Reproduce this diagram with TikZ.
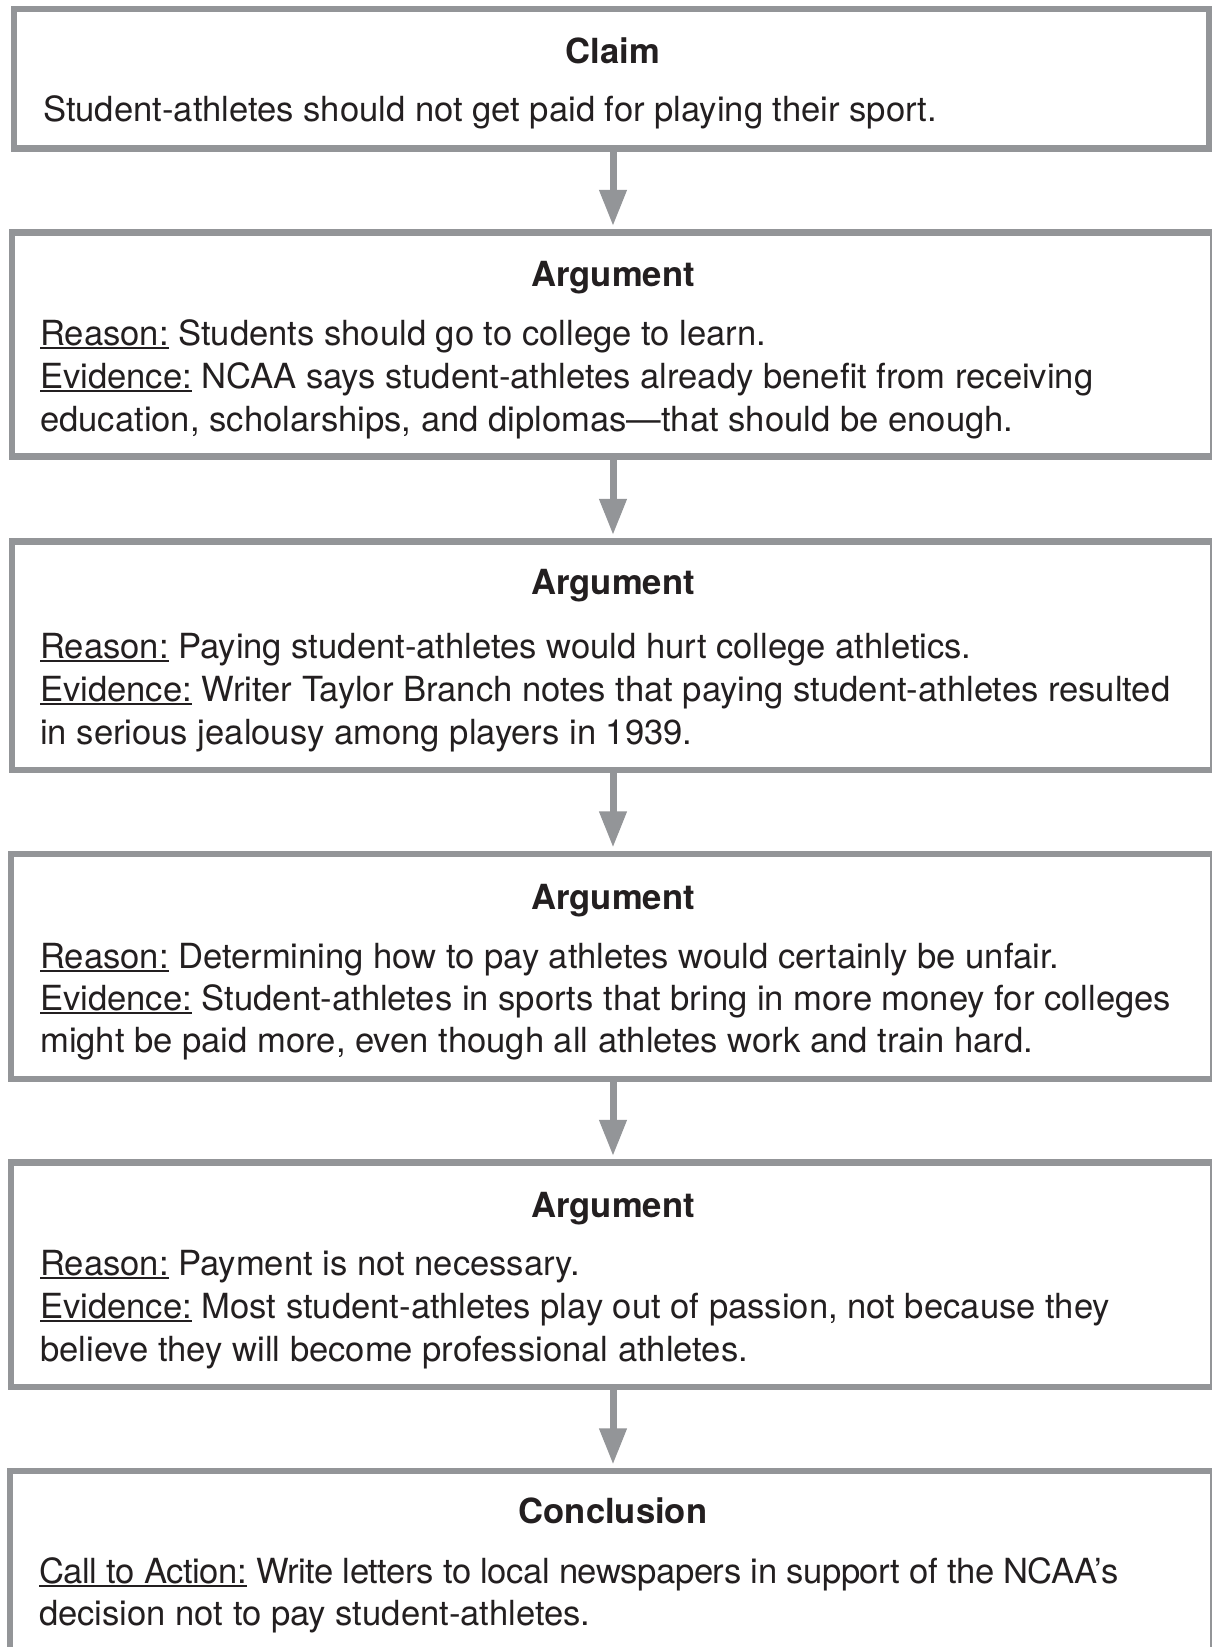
\documentclass[tikz,border=0pt]{standalone}
\usepackage{fontspec}
\setmainfont{TeX Gyre Heros}
\usetikzlibrary{arrows.meta}
\definecolor{bordergray}{RGB}{147,149,152}
\definecolor{inkc}{RGB}{35,31,32}
\newcommand\und[1]{\setbox0\hbox{#1}\rlap{\rule[-4pt]{\wd0}{1.6pt}}\box0\relax}
\tikzset{
  x=1pt, y=-1pt,
  box/.style={draw=bordergray, line width=6.5pt, fill=none},
  head/.style={anchor=base, inner sep=0pt, font=\fontsize{34.6}{43}\selectfont\bfseries, text=inkc},
  line/.style={anchor=base west, inner sep=0pt, font=\fontsize{34.6}{43}\selectfont, text=inkc},
  conn/.style={draw=bordergray, line width=7pt, -{Triangle[width=26pt,length=36pt]}, shorten >=3.3pt, shorten <=3pt}
}
\begin{document}
\begin{tikzpicture}
\clip (0,0) rectangle (1212,1647);
\fill[white] (0,0) rectangle (1212,1647);
% boxes
\node[box, minimum width=1195.5pt, minimum height=139.5pt, inner sep=0pt] (b1) at ({(14+1209.5)/2},{(9+148.5)/2}) {};
\node[box, minimum width=1201.5pt, minimum height=224pt, inner sep=0pt] (b2) at ({(12+1213.5)/2},{(232.5+456.5)/2}) {};
\node[box, minimum width=1201.5pt, minimum height=228.5pt, inner sep=0pt] (b3) at ({(12+1213.5)/2},{(541.5+770)/2}) {};
\node[box, minimum width=1202.5pt, minimum height=225pt, inner sep=0pt] (b4) at ({(11+1213.5)/2},{(854+1079)/2}) {};
\node[box, minimum width=1202.5pt, minimum height=224.5pt, inner sep=0pt] (b5) at ({(11+1213.5)/2},{(1162.5+1387)/2}) {};
\node[box, minimum width=1203.5pt, minimum height=200pt, inner sep=0pt] (b6) at ({(10+1213.5)/2},{(1471+1671)/2}) {};
% connectors
\coordinate (a1s) at (613,148.5);
\coordinate (a2s) at (613,456.5);
\coordinate (a3s) at (613,770);
\coordinate (a4s) at (613,1079);
\coordinate (a5s) at (613,1387);
\draw[conn] (a1s) -- (a1s |- b2.north);
\draw[conn] (a2s) -- (a2s |- b3.north);
\draw[conn] (a3s) -- (a3s |- b4.north);
\draw[conn] (a4s) -- (a4s |- b5.north);
\draw[conn] (a5s) -- (a5s |- b6.north);
% box 1
\node[head] (h1) at (613,63) {Claim};
\node[line] (t11) at (43,121) {Student-athletes should not get paid for playing their sport.};
% box 2
\node[head] (h2) at (613,286) {Argument};
\node[line] (t21) at (40,345) {\und{Reason:} Students should go to college to learn.};
\node[line] (t22) at (40,388) {\und{Evidence:} NCAA says student-athletes already benefit from receiving};
\node[line] (t23) at (40,431) {education, scholarships, and diplomas—that should be enough.};
% box 3
\node[head] (h3) at (613,594) {Argument};
\node[line] (t31) at (40,658) {\und{Reason:} Paying student-athletes would hurt college athletics.};
\node[line] (t32) at (40,701) {\und{Evidence:} Writer Taylor Branch notes that paying student-athletes resulted};
\node[line] (t33) at (40,744) {in serious jealousy among players in 1939.};
% box 4
\node[head] (h4) at (613,909) {Argument};
\node[line] (t41) at (40,968) {\und{Reason:} Determining how to pay athletes would certainly be unfair.};
\node[line] (t42) at (40,1010) {\und{Evidence:} Student-athletes in sports that bring in more money for colleges};
\node[line] (t43) at (40,1052) {might be paid more, even though all athletes work and train hard.};
% box 5
\node[head] (h5) at (613,1217) {Argument};
\node[line] (t51) at (40,1275) {\und{Reason:} Payment is not necessary.};
\node[line] (t52) at (40,1318) {\und{Evidence:} Most student-athletes play out of passion, not because they};
\node[line] (t53) at (40,1361) {believe they will become professional athletes.};
% box 6
\node[head] (h6) at (613,1523) {Conclusion};
\node[line] (t61) at (39,1583) {\addfontfeatures{LetterSpace=-1.2}\und{Call to Action:} Write letters to local newspapers in support of the NCAA’s};
\node[line] (t62) at (39,1625) {decision not to pay student-athletes.};
\end{tikzpicture}
\end{document}
